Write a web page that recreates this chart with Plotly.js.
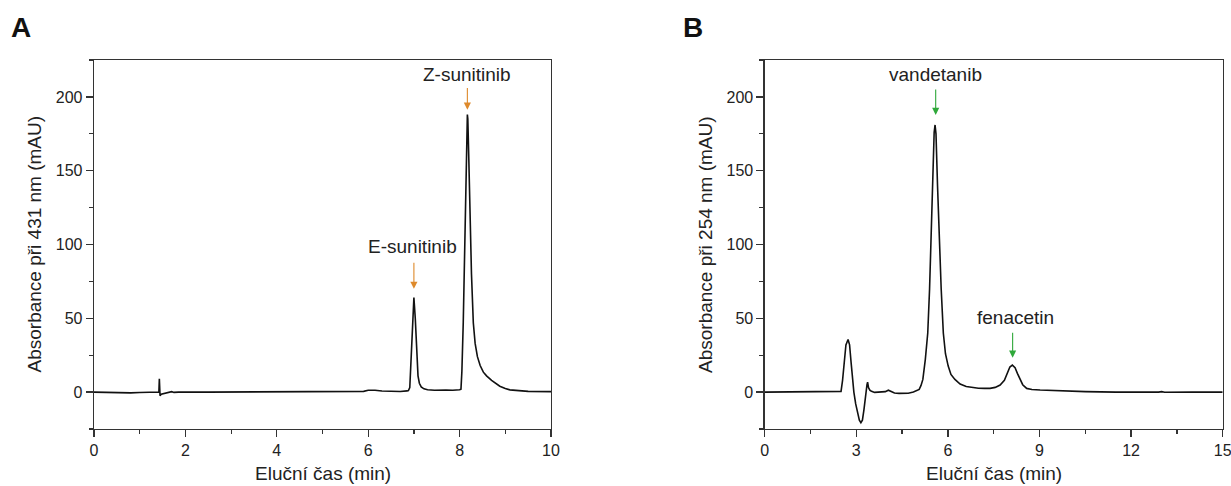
<!DOCTYPE html>
<html>
<head>
<meta charset="utf-8">
<script src="https://cdn.plot.ly/plotly-3.0.1.min.js"></script>
<style>html,body{margin:0;padding:0;background:#fff;}#chart{width:1231px;height:486px;}</style>
</head>
<body>
<div id="chart"></div>
<script>
// Panel A: sunitinib, 431 nm
const timeA = [0, 0.3, 0.5, 0.8, 1.0, 1.2, 1.35, 1.42, 1.43, 1.445, 1.47, 1.55, 1.65, 1.7, 1.75, 1.85, 2.5, 3.5, 4.5, 5.5, 5.8, 5.9, 6.0, 6.15, 6.3, 6.5, 6.7, 6.85, 6.88, 6.91, 6.94, 6.97, 7.0, 7.03, 7.06, 7.09, 7.12, 7.16, 7.22, 7.3, 7.45, 7.6, 7.7, 7.85, 7.95, 8.0, 8.03, 8.05, 8.08, 8.10, 8.125, 8.14, 8.16, 8.17, 8.18, 8.20, 8.23, 8.26, 8.30, 8.34, 8.39, 8.45, 8.52, 8.59, 8.7, 8.8, 8.88, 9.0, 9.1, 9.5, 10];
const absA  = [0, -0.3, -0.7, -0.5, -0.3, -0.2, -0.1, 0, 9, -2.5, -1.5, -0.8, 0, 0.3, -0.2, 0, 0, 0, 0, 0, 0.1, 0.5, 1.2, 1.3, 0.7, 0.3, 0.4, 0.8, 1.0, 3, 24, 52, 64, 50, 24, 11, 6, 3.5, 2.2, 1.6, 1.2, 1.6, 1.4, 1.2, 1.3, 1.6, 2, 14, 47, 75, 115, 145, 180, 188, 185, 160, 115, 80, 47, 33, 24, 18, 13.5, 11, 8, 5.5, 4, 2.5, 1.5, 0.5, 0.3];

// Panel B: vandetanib + fenacetin, 254 nm
const timeB = [0, 2.03, 2.05, 2.45, 2.5, 2.55, 2.6, 2.66, 2.73, 2.78, 2.83, 2.88, 2.92, 2.98, 3.05, 3.1, 3.15, 3.2, 3.25, 3.3, 3.35, 3.37, 3.4, 3.45, 3.5, 3.6, 3.8, 3.95, 4.05, 4.15, 4.25, 4.4, 4.7, 4.87, 5.0, 5.06, 5.12, 5.18, 5.26, 5.34, 5.40, 5.45, 5.50, 5.55, 5.58, 5.61, 5.66, 5.71, 5.78, 5.85, 5.92, 6.01, 6.1, 6.23, 6.4, 6.6, 6.83, 7.0, 7.2, 7.38, 7.55, 7.71, 7.85, 7.95, 8.03, 8.11, 8.2, 8.28, 8.36, 8.45, 8.58, 8.75, 9.02, 9.4, 9.89, 10.5, 11.5, 12.2, 12.3, 12.4, 12.9, 13.0, 13.1, 14, 15];
const absB  = [0, 0, 0.4, 0, 0.5, 8, 20, 32, 35.6, 32, 20, 8, 0, -8, -15, -19, -20.7, -19, -12, -2, 5, 6.8, 3, 1.2, 0.5, -0.2, -0.2, 0.3, 1.3, 0.5, -0.6, -0.9, -0.8, 0, 1.2, 1.8, 4.5, 8.6, 22, 40, 70, 108, 150, 176, 181, 175, 140, 108, 70, 40, 26, 17.6, 12, 8.6, 5.5, 3.8, 3, 2.6, 2.5, 2.5, 3.2, 4.8, 8, 13, 17, 18.3, 16.5, 12.5, 8.6, 5, 2.5, 1.8, 1.4, 1, 0.7, 0.3, 0, -0.2, 0.2, -0.1, 0, 0.3, -0.1, 0, 0];

// Axis tick steps (major, minor)
const yTickStep = [50, 25];
const xTickStepA = [2, 1];
const xTickStepB = [3, 1.5];

// Peak labels
const labelsA = ["E-sunitinib", "Z-sunitinib"];
const labelXA = [6.97, 8.17];
const labelYA = [98.8, 215];
const arrowXA = [7.0, 8.17];
const arrowTipA = [70, 191.3];
const arrowTailA = [88.6, 207];

const labelsB = ["vandetanib", "fenacetin"];
const labelXB = [5.61, 8.2];
const labelYB = [215, 50.5];
const arrowXB = [5.6, 8.12];
const arrowTipB = [187.8, 23.3];
const arrowTailB = [206, 41.3];

const FONT = "Liberation Sans, Arial, Helvetica, sans-serif";
const TXT = "#222222";
const AX = "#333333";

const traces = [
  {x: timeA, y: absA, type: "scatter", mode: "lines", line: {color: "#111", width: 1.6}, xaxis: "x", yaxis: "y", hoverinfo: "skip"},
  {x: timeB, y: absB, type: "scatter", mode: "lines", line: {color: "#111", width: 1.6}, xaxis: "x2", yaxis: "y2", hoverinfo: "skip"}
];

function axis(domain, range, step, anchor) {
  return {
    domain: domain, range: range, anchor: anchor,
    tickmode: "linear", tick0: 0, dtick: step[0],
    ticks: "outside", ticklen: 7, tickwidth: 1.2, tickcolor: AX,
    ticklabeloverflow: "allow",
    minor: {tickmode: "linear", tick0: 0, dtick: step[1], ticks: "outside", ticklen: 4, tickwidth: 1.2, tickcolor: AX},
    showline: true, linecolor: AX, linewidth: 1.3, mirror: true,
    showgrid: false, zeroline: false,
    tickfont: {family: FONT, size: 16, color: TXT}
  };
}

const annotations = [];
function addLabels(labels, lx, ly, ax, tip, tail, xr, yr, color) {
  for (let i = 0; i < labels.length; i++) {
    annotations.push({x: lx[i], y: ly[i], xref: xr, yref: yr, text: labels[i], showarrow: false,
      xanchor: "center", yanchor: "middle", font: {family: FONT, size: 19, color: TXT}});
    annotations.push({x: ax[i], y: tip[i], ax: ax[i], ay: tail[i], xref: xr, yref: yr, axref: xr, ayref: yr,
      text: "", showarrow: true, arrowhead: 2, arrowsize: 1.3, arrowwidth: 1.1, arrowcolor: color, standoff: 0});
  }
}
addLabels(labelsA, labelXA, labelYA, arrowXA, arrowTipA, arrowTailA, "x", "y", "#de8a2c");
addLabels(labelsB, labelXB, labelYB, arrowXB, arrowTipB, arrowTailB, "x2", "y2", "#2fa83a");

// Panel letters
annotations.push({x: 9/1231, y: 0.9424, xref: "paper", yref: "paper", text: "<b>A</b>", showarrow: false, xanchor: "left", yanchor: "middle", font: {family: FONT, size: 28, color: "#111"}});
annotations.push({x: 681/1231, y: 0.9424, xref: "paper", yref: "paper", text: "<b>B</b>", showarrow: false, xanchor: "left", yanchor: "middle", font: {family: FONT, size: 28, color: "#111"}});

// Axis titles
const yTitles = ["Absorbance při 431 nm (mAU)", "Absorbance při 254 nm (mAU)"];
const xTitle = "Eluční čas (min)";
annotations.push({x: 35/1231, y: 0.4969, xref: "paper", yref: "paper", text: yTitles[0], textangle: -90, showarrow: false, xanchor: "center", yanchor: "middle", font: {family: FONT, size: 19, color: TXT}});
annotations.push({x: 705.5/1231, y: 0.4969, xref: "paper", yref: "paper", text: yTitles[1], textangle: -90, showarrow: false, xanchor: "center", yanchor: "middle", font: {family: FONT, size: 19, color: TXT}});
annotations.push({x: 322.5/1231, y: (486-473)/486, xref: "paper", yref: "paper", text: xTitle, showarrow: false, xanchor: "center", yanchor: "middle", font: {family: FONT, size: 19, color: TXT}});
annotations.push({x: 993.7/1231, y: (486-473)/486, xref: "paper", yref: "paper", text: xTitle, showarrow: false, xanchor: "center", yanchor: "middle", font: {family: FONT, size: 19, color: TXT}});

const yDomain = [0.1173, 0.8765];
const layout = {
  width: 1231, height: 486,
  margin: {l: 0, r: 0, t: 0, b: 0},
  paper_bgcolor: "#ffffff", plot_bgcolor: "#ffffff",
  showlegend: false,
  xaxis: axis([94/1231, 551/1231], [0, 10.0001], xTickStepA, "y"),
  yaxis: axis(yDomain, [-25, 225], yTickStep, "x"),
  xaxis2: axis([764.7/1231, 1222.7/1231], [0, 15.0001], xTickStepB, "y2"),
  yaxis2: axis(yDomain, [-25, 225], yTickStep, "x2"),
  annotations: annotations,
  font: {family: FONT, color: TXT}
};

Plotly.newPlot("chart", traces, layout, {staticPlot: true, displayModeBar: false});
</script>
</body>
</html>
